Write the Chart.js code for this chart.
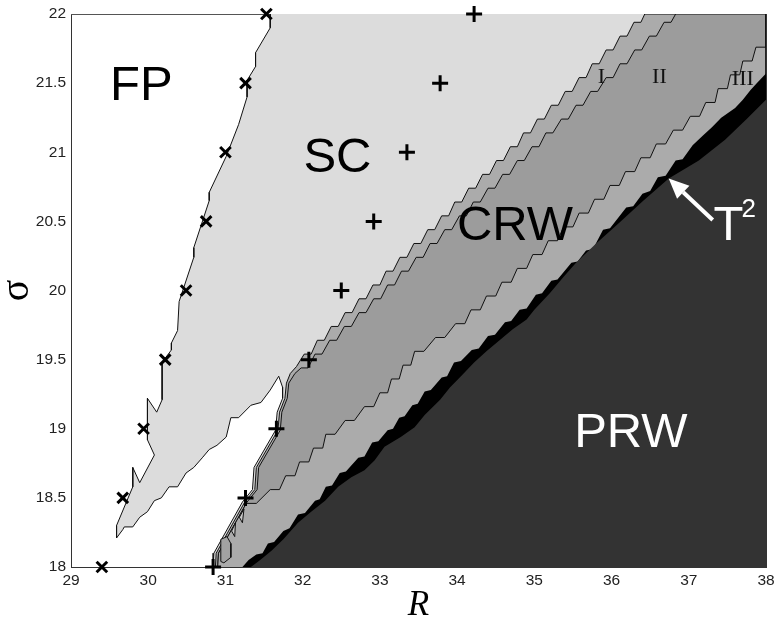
<!DOCTYPE html>
<html>
<head>
<meta charset="utf-8">
<script src="https://cdn.jsdelivr.net/npm/chart.js@4.4.1/dist/chart.umd.min.js"></script>
<style>
  html, body { margin: 0; padding: 0; background: #fff; }
</style>
</head>
<body>
<canvas id="phase" width="777" height="623"></canvas>
<script>
// axis ticks
const rTicks = [29, 30, 31, 32, 33, 34, 35, 36, 37, 38];
const sigmaTicks = [18, 18.5, 19, 19.5, 20, 20.5, 21, 21.5, 22];

// computed onset points (x marks: FP -> SC, + marks: SC -> CRW)
const crossR = [31.53, 31.26, 31.00, 30.75, 30.49, 30.22, 29.94, 29.67, 29.40];
const crossSigma = [22, 21.5, 21, 20.5, 20, 19.5, 19, 18.5, 18];
const plusR = [34.22, 33.78, 33.35, 32.92, 32.50, 32.08, 31.66, 31.26, 30.84];
const plusSigma = [22, 21.5, 21, 20.5, 20, 19.5, 19, 18.5, 18];

// FP / SC boundary, top to bottom of the SC tongue
const fpBoundary = [
  [31.58, 22.0], [31.58, 21.90], [31.39, 21.72], [31.39, 21.62], [31.28, 21.52], [31.28, 21.40],
  [31.17, 21.20], [31.01, 20.97], [30.79, 20.71], [30.79, 20.65], [30.59, 20.31], [30.59, 20.24],
  [30.40, 19.92], [30.38, 19.71], [30.30, 19.62], [30.30, 19.57], [30.18, 19.48], [30.18, 19.21],
  [30.11, 19.12], [29.99, 19.22], [29.99, 18.92], [30.08, 18.81], [29.89, 18.61], [29.80, 18.72],
  [29.80, 18.58], [29.59, 18.30], [29.59, 18.21]
];
// lower edge of the SC tongue up to the tip of the FP gap
const scLowerEdge = [
  [29.67, 18.27], [29.69, 18.29], [29.80, 18.29], [29.89, 18.36], [29.99, 18.40], [30.08, 18.48],
  [30.17, 18.50], [30.27, 18.58], [30.38, 18.58], [30.49, 18.68], [30.59, 18.72], [30.70, 18.79],
  [30.79, 18.85], [30.89, 18.88], [31.01, 18.94], [31.07, 19.08], [31.17, 19.08], [31.33, 19.17],
  [31.46, 19.19], [31.58, 19.28], [31.69, 19.38]
];
// right edge of the FP gap, down to the R axis
const gapEdge = [
  [31.74, 19.30], [31.74, 19.22], [31.67, 19.12], [31.65, 18.99], [31.37, 18.72], [31.35, 18.56],
  [31.22, 18.47], [30.85, 18.10], [30.84, 18.0]
];

// SC / CRW-I boundary, bottom to top
const bandOneEdge = [
  [30.87, 18.0], [30.88, 18.10], [31.25, 18.47], [31.38, 18.56], [31.40, 18.72], [31.68, 18.99],
  [31.70, 19.12], [31.77, 19.22], [31.79, 19.33], [31.84, 19.40], [31.92, 19.45],
  [32.02, 19.54], [32.11, 19.54], [32.19, 19.64], [32.28, 19.64], [32.37, 19.74], [32.46, 19.74],
  [32.55, 19.84], [32.64, 19.84], [32.73, 19.94], [32.82, 19.94], [32.91, 20.04], [33.00, 20.04],
  [33.08, 20.14], [33.17, 20.14], [33.26, 20.24], [33.35, 20.24], [33.44, 20.34], [33.53, 20.34],
  [33.62, 20.44], [33.71, 20.44], [33.80, 20.54], [33.89, 20.54], [33.97, 20.64], [34.06, 20.64],
  [34.15, 20.74], [34.24, 20.74], [34.33, 20.84], [34.42, 20.84], [34.51, 20.94], [34.60, 20.94],
  [34.69, 21.04], [34.78, 21.04], [34.86, 21.14], [34.95, 21.14], [35.04, 21.24], [35.13, 21.24],
  [35.22, 21.34], [35.31, 21.34], [35.40, 21.44], [35.49, 21.44], [35.58, 21.54], [35.67, 21.54],
  [35.75, 21.64], [35.84, 21.64], [35.93, 21.74], [36.02, 21.74], [36.11, 21.84], [36.20, 21.84],
  [36.29, 21.94], [36.38, 21.94], [36.43, 22.0]
];
// CRW-I / CRW-II boundary
const bandTwoEdge = [
  [30.90, 18.0], [30.91, 18.10], [31.28, 18.47], [31.41, 18.56], [31.43, 18.72], [31.71, 18.99],
  [31.73, 19.12], [31.80, 19.22], [31.82, 19.33], [31.90, 19.40],
  [31.98, 19.44], [32.07, 19.44], [32.16, 19.54], [32.25, 19.54], [32.35, 19.64], [32.44, 19.64],
  [32.54, 19.74], [32.63, 19.74], [32.73, 19.84], [32.82, 19.84], [32.92, 19.94], [33.01, 19.94],
  [33.10, 20.04], [33.19, 20.04], [33.28, 20.14], [33.37, 20.14], [33.47, 20.24], [33.56, 20.24],
  [33.65, 20.34], [33.74, 20.34], [33.84, 20.44], [33.93, 20.44], [34.03, 20.54], [34.12, 20.54],
  [34.21, 20.64], [34.30, 20.64], [34.40, 20.74], [34.49, 20.74], [34.59, 20.84], [34.68, 20.84],
  [34.78, 20.94], [34.87, 20.94], [34.97, 21.04], [35.06, 21.04], [35.15, 21.14], [35.24, 21.14],
  [35.35, 21.24], [35.44, 21.24], [35.54, 21.34], [35.63, 21.34], [35.73, 21.44], [35.82, 21.44],
  [35.93, 21.54], [36.02, 21.54], [36.11, 21.64], [36.20, 21.64], [36.30, 21.74], [36.39, 21.74],
  [36.49, 21.84], [36.58, 21.84], [36.68, 21.94], [36.77, 21.94], [36.83, 22.0]
];
// CRW-II / CRW-III boundary
const bandThreeEdge = [
  [30.90, 18.0], [30.91, 18.10], [31.27, 18.46], [31.40, 18.46],
  [31.58, 18.56], [31.70, 18.56], [31.78, 18.66], [31.90, 18.66], [31.96, 18.76], [32.08, 18.76],
  [32.14, 18.86], [32.26, 18.86], [32.30, 18.96], [32.42, 18.96], [32.55, 19.06], [32.67, 19.06],
  [32.80, 19.16], [32.92, 19.16], [33.00, 19.26], [33.10, 19.26], [33.15, 19.36], [33.25, 19.36],
  [33.30, 19.46], [33.40, 19.46], [33.45, 19.56], [33.57, 19.56], [33.72, 19.66], [33.84, 19.66],
  [33.98, 19.76], [34.10, 19.76], [34.18, 19.86], [34.30, 19.86], [34.38, 19.96], [34.50, 19.96],
  [34.58, 20.06], [34.70, 20.06], [34.78, 20.16], [34.90, 20.16], [34.98, 20.26], [35.10, 20.26],
  [35.18, 20.36], [35.30, 20.36], [35.38, 20.46], [35.50, 20.46], [35.58, 20.56], [35.70, 20.56],
  [35.78, 20.66], [35.90, 20.66], [35.98, 20.76], [36.10, 20.76], [36.18, 20.86], [36.30, 20.86],
  [36.38, 20.96], [36.50, 20.96], [36.58, 21.06], [36.70, 21.06], [36.80, 21.16], [36.92, 21.16],
  [37.02, 21.26], [37.14, 21.26], [37.22, 21.36], [37.34, 21.36], [37.38, 21.46], [37.50, 21.46],
  [37.54, 21.56], [37.66, 21.56], [37.70, 21.66], [37.82, 21.66], [37.87, 21.76], [38.0, 21.76]
];
// T^2 torus band (black), outer edge
const torusEdge = [
  [31.22, 18.0], [31.30, 18.05], [31.40, 18.09], [31.48, 18.10], [31.55, 18.17], [31.63, 18.18],
  [31.75, 18.26], [31.83, 18.28], [31.94, 18.38], [32.03, 18.39], [32.16, 18.48], [32.22, 18.49],
  [32.30, 18.58], [32.38, 18.59], [32.48, 18.68], [32.56, 18.69], [32.72, 18.79], [32.80, 18.80],
  [32.90, 18.90], [32.98, 18.91], [33.10, 18.99], [33.17, 19.00], [33.25, 19.08], [33.32, 19.09],
  [33.42, 19.17], [33.49, 19.18], [33.58, 19.27], [33.66, 19.28], [33.80, 19.37], [33.87, 19.38],
  [33.96, 19.48], [34.05, 19.49], [34.19, 19.57], [34.28, 19.58], [34.40, 19.67], [34.49, 19.68],
  [34.62, 19.77], [34.70, 19.78], [34.81, 19.86], [34.90, 19.87], [35.02, 19.97], [35.10, 19.98],
  [35.22, 20.07], [35.30, 20.08], [35.48, 20.20], [35.56, 20.21], [35.67, 20.29], [35.76, 20.30],
  [35.89, 20.44], [35.98, 20.45], [36.19, 20.60], [36.28, 20.61], [36.40, 20.70], [36.50, 20.72],
  [36.60, 20.82], [36.70, 20.83], [36.83, 20.94], [36.92, 20.95], [37.05, 21.05], [37.18, 21.12],
  [37.30, 21.18], [37.42, 21.25], [37.60, 21.32], [37.70, 21.38], [37.80, 21.45], [37.88, 21.50],
  [38.0, 21.57]
];
// PRW boundary
const prwEdge = [
  [31.33, 18.0], [31.45, 18.05], [31.60, 18.12], [31.75, 18.20], [31.94, 18.32], [32.11, 18.40],
  [32.29, 18.48], [32.46, 18.58], [32.63, 18.65], [32.80, 18.70], [32.93, 18.77], [33.06, 18.87],
  [33.27, 18.94], [33.45, 19.01], [33.58, 19.10], [33.78, 19.21], [33.91, 19.30], [34.05, 19.38],
  [34.22, 19.48], [34.38, 19.56], [34.55, 19.64], [34.72, 19.72], [34.90, 19.79], [35.00, 19.86],
  [35.20, 19.98], [35.38, 20.10], [35.54, 20.20], [35.80, 20.34], [36.10, 20.49], [36.41, 20.65],
  [36.74, 20.81], [37.13, 20.94], [37.47, 21.09], [37.75, 21.24], [38.0, 21.38]
];
// small closed contours near the R axis
const islandEdge = [
  [30.94, 18.20], [31.02, 18.22], [31.07, 18.17], [31.07, 18.07], [30.98, 18.03], [30.94, 18.04], [30.94, 18.20]
];
const islandTriA = [[31.18, 18.36], [31.24, 18.42], [31.22, 18.32], [31.18, 18.36]];
const islandTriB = [[31.08, 18.26], [31.13, 18.32], [31.12, 18.22], [31.08, 18.26]];

const rMin = 29, rMax = 38, sMin = 18, sMax = 22;

const toXY = arr => arr.map(([r, s]) => ({ x: r, y: s }));
// everything to the lower right of an edge, closed along the frame
const rightOf = edge => toXY([...edge, [rMax, sMax], [rMax, sMin]]);

const region = (data, color, order, border) => ({
  data, order,
  fill: 'shape',
  backgroundColor: color,
  borderColor: border ? '#111' : color,
  borderWidth: border ? 1 : 0,
  pointRadius: 0,
  tension: 0,
  xAxisID: 'x', yAxisID: 'y'
});

const scShape = toXY([...fpBoundary, ...scLowerEdge, ...gapEdge, [rMax, sMin], [rMax, sMax]]);

const labels = [
  { text: 'FP', r: 29.91, s: 21.38, color: '#000', font: '49px "Liberation Sans"' },
  { text: 'SC', r: 32.45, s: 20.86, color: '#000', font: '49px "Liberation Sans"' },
  { text: 'CRW', r: 34.75, s: 20.365, color: '#000', font: '49px "Liberation Sans"' },
  { text: 'PRW', r: 36.25, s: 18.868, color: '#fff', font: '49px "Liberation Sans"' },
  { text: 'I', r: 35.87, s: 21.50, color: '#111', font: '22px "Liberation Serif"' },
  { text: 'II', r: 36.62, s: 21.50, color: '#111', font: '22px "Liberation Serif"' },
  { text: 'III', r: 37.70, s: 21.49, color: '#111', font: '22px "Liberation Serif"' }
];
const torusNote = { tipR: 36.74, tipS: 20.81, tailR: 37.31, tailS: 20.51, textR: 37.32, textS: 20.365 };

const notesPlugin = {
  id: 'notes',
  afterDatasetsDraw(chart) {
    const { ctx, scales: { x, y } } = chart;
    ctx.save();
    ctx.textBaseline = 'alphabetic';
    ctx.textAlign = 'center';
    labels.forEach(l => {
      ctx.font = l.font;
      ctx.fillStyle = l.color;
      ctx.fillText(l.text, x.getPixelForValue(l.r), y.getPixelForValue(l.s));
    });
    // arrow pointing at the torus band
    const tx = x.getPixelForValue(torusNote.tipR), ty = y.getPixelForValue(torusNote.tipS);
    const bx = x.getPixelForValue(torusNote.tailR), by = y.getPixelForValue(torusNote.tailS);
    const ang = Math.atan2(ty - by, tx - bx);
    const headLen = 20, headHalf = 9;
    const hx = tx - headLen * Math.cos(ang), hy = ty - headLen * Math.sin(ang);
    ctx.strokeStyle = '#fff';
    ctx.fillStyle = '#fff';
    ctx.lineWidth = 4;
    ctx.beginPath();
    ctx.moveTo(bx, by);
    ctx.lineTo(hx, hy);
    ctx.stroke();
    ctx.beginPath();
    ctx.moveTo(tx, ty);
    ctx.lineTo(hx + headHalf * Math.sin(ang), hy - headHalf * Math.cos(ang));
    ctx.lineTo(hx - headHalf * Math.sin(ang), hy + headHalf * Math.cos(ang));
    ctx.closePath();
    ctx.fill();
    ctx.textAlign = 'left';
    ctx.font = '49px "Liberation Sans"';
    const px = x.getPixelForValue(torusNote.textR), py = y.getPixelForValue(torusNote.textS);
    ctx.fillText('T', px, py);
    ctx.font = '26px "Liberation Sans"';
    ctx.fillText('2', px + 28, py - 23);
    ctx.restore();
  }
};

const noPad = s => { s.paddingLeft = 0; s.paddingRight = 0; s.paddingTop = 0; s.paddingBottom = 0; };
const tickFont = { family: 'Liberation Sans', size: 15.5 };

new Chart(document.getElementById('phase'), {
  type: 'line',
  data: {
    datasets: [
      {
        data: crossR.map((r, i) => ({ x: r, y: crossSigma[i] })),
        showLine: false, pointStyle: 'crossRot', pointRadius: 7.5, pointBorderWidth: 3,
        pointBorderColor: '#000', borderColor: '#000', order: 0, clip: false,
        xAxisID: 'x', yAxisID: 'y'
      },
      {
        data: plusR.map((r, i) => ({ x: r, y: plusSigma[i] })),
        showLine: false, pointStyle: 'cross', pointRadius: 8, pointBorderWidth: 3,
        pointBorderColor: '#000', borderColor: '#000', order: 0, clip: false,
        xAxisID: 'x', yAxisID: 'y'
      },
      region(scShape, '#dcdcdc', 10, true),
      region(rightOf(bandOneEdge), '#ababab', 9, true),
      region(rightOf(bandTwoEdge), '#9c9c9c', 8, true),
      region(rightOf(bandThreeEdge), '#ababab', 7, true),
      region(rightOf(torusEdge), '#000000', 6, false),
      region(rightOf(prwEdge), '#333333', 5, false),
      region(toXY(islandEdge), '#a2a2a2', 4, true),
      region(toXY(islandTriA), '#c8c8c8', 3, true),
      region(toXY(islandTriB), '#c8c8c8', 3, true)
    ]
  },
  options: {
    responsive: false,
    devicePixelRatio: 1,
    animation: false,
    layout: { padding: { left: 0, right: 6, top: 14, bottom: 0 } },
    plugins: { legend: { display: false }, tooltip: { enabled: false } },
    scales: {
      x: {
        type: 'linear', position: 'bottom', min: rMin, max: rMax, z: 1,
        afterBuildTicks: s => { s.ticks = rTicks.map(v => ({ value: v })); },
        ticks: { font: tickFont, color: '#222', padding: 4, maxRotation: 0, autoSkip: false, callback: v => String(v) },
        grid: { drawOnChartArea: false, drawTicks: false },
        border: { color: '#333', width: 1 },
        title: { display: true, text: 'R', color: '#000', padding: 0,
          font: { family: 'Liberation Serif', size: 35, style: 'italic', lineHeight: 1 } },
        afterFit: s => { s.height = 56; noPad(s); }
      },
      y: {
        type: 'linear', position: 'left', min: sMin, max: sMax, z: 1,
        afterBuildTicks: s => { s.ticks = sigmaTicks.map(v => ({ value: v })); },
        ticks: { font: tickFont, color: '#222', padding: 5, autoSkip: false, callback: v => String(v) },
        grid: { drawOnChartArea: false, drawTicks: false },
        border: { color: '#333', width: 1 },
        title: { display: true, text: 'σ', color: '#000', padding: 0,
          font: { family: 'Liberation Serif', size: 40, lineHeight: 0.85 } },
        afterFit: s => { s.width = 71; noPad(s); }
      },
      xTop: {
        type: 'linear', position: 'top', min: rMin, max: rMax, z: 1,
        ticks: { display: false }, grid: { drawOnChartArea: false, drawTicks: false },
        border: { color: '#555', width: 1 },
        afterFit: s => { s.height = 0; noPad(s); }
      },
      yRight: {
        type: 'linear', position: 'right', min: sMin, max: sMax, z: 1,
        ticks: { display: false }, grid: { drawOnChartArea: false, drawTicks: false },
        border: { color: '#333', width: 1 },
        afterFit: s => { s.width = 0; noPad(s); }
      }
    }
  },
  plugins: [notesPlugin]
});
</script>
</body>
</html>
